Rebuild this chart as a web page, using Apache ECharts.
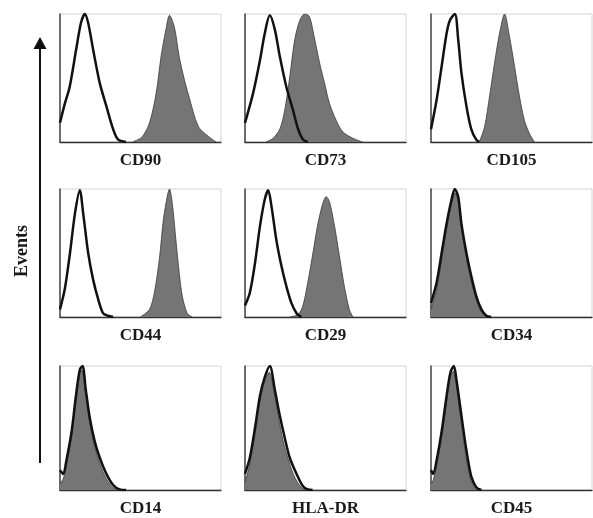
<!DOCTYPE html>
<html>
<head>
<meta charset="utf-8">
<script src="https://cdn.jsdelivr.net/npm/echarts@6/dist/echarts.min.js"></script>
<style>
html, body { margin: 0; padding: 0; background: #fff; }
#chart { width: 593px; height: 518px; }
</style>
</head>
<body>
<div id="chart"></div>
<script>
var markers = ['CD90', 'CD73', 'CD105', 'CD44', 'CD29', 'CD34', 'CD14', 'HLA-DR', 'CD45'];

// [fluorescence channel (% of axis), events (% of peak)]
// open curves = isotype control, filled = stained sample
var cd90Iso = [[0,15],[3,30],[6,43],[10,72],[13,93],[15.4,100],[17.5,93],[20.6,72],[24.7,46],[28.8,28],[33,10],[36,2],[41,0]];
var cd90Pos = [[45,0],[51,4],[55.6,15],[59.7,38],[62.8,67],[65.8,88],[68,99],[71,90],[74,67],[77,50],[80,36],[86,12],[92.6,4],[97,0]];
var cd73Iso = [[0,15],[5,38],[9.3,64],[12.3,85],[15.4,99],[18.5,88],[21.6,67],[25.7,43],[29.8,25],[33,10],[36,2],[39,0]];
var cd73Pos = [[13,0],[17.5,3],[21.6,10],[24.7,25],[27.8,51],[30.9,80],[34,95],[37,100],[40,98],[43,82],[46.3,62],[49.4,46],[52.5,30],[56.6,17],[60.7,8],[66.9,3],[73,0]];
var cd105Iso = [[0,10],[3.5,33],[6.6,59],[9.7,85],[11.7,95],[14.8,100],[16.9,80],[18.9,54],[22,28],[25,10],[28,2],[30,0]];
var cd105Pos = [[30,0],[33.3,12],[36.4,36],[39.5,62],[42.6,85],[45.7,100],[48.8,82],[51.9,59],[54.9,36],[58,17],[61,7],[64.2,0]];
var cd44Iso = [[0,6],[3,22],[6.2,50],[9.3,81],[12.3,99],[14.4,81],[17.5,50],[20.6,29],[23.7,14],[26.7,3],[29.8,1],[33,0]];
var cd44Pos = [[50,0],[55.6,6],[58.6,19],[61.7,45],[64.2,76],[66.9,96],[68,100],[70,86],[72,60],[74,35],[76,16],[79,3],[82,0]];
var cd29Iso = [[0,9],[3,19],[6.2,42],[9.3,71],[12.3,92],[14.4,99],[16.5,86],[19.5,60],[22.6,40],[25.7,24],[28.8,11],[32,3],[35,0]];
var cd29Pos = [[27.8,0],[33,2],[36,9],[39,27],[42.2,50],[45.3,73],[48.4,89],[50.4,94],[52.5,90],[55.6,71],[58.6,48],[61.7,24],[64.8,6],[67,0]];
var cd34Iso = [[0,11],[3.5,27],[6.6,50],[9.7,73],[12.8,92],[14.8,100],[16.9,94],[18.9,73],[22,50],[25,32],[28.2,16],[31.3,6],[34.4,1],[37.4,0]];
var cd34Pos = [[0,6],[3.5,22],[6.6,45],[9.7,69],[12.8,89],[15,97],[17,90],[18.9,70],[22,46],[25,28],[28.2,13],[31.3,4],[34,0]];
var cd14Iso = [[0,16],[2,13],[4,24],[7.2,47],[9.9,76],[12.3,97],[14,100],[16,81],[18.5,58],[21.6,39],[24.7,26],[28.8,13],[33,4],[37,0.5],[41,0]];
var cd14Pos = [[0,5],[2,9],[4,20],[7.2,43],[9.9,72],[12.3,94],[13.5,97],[15.5,82],[18,58],[21,38],[24,24],[28,11],[32,3],[36,0]];
var hladrIso = [[0,13],[3,26],[6.2,50],[9.3,76],[12.3,91],[15.4,100],[18.5,81],[21.6,60],[24.7,42],[27.8,26],[32,13],[36,3],[39,0.5],[42,0]];
var hladrPos = [[0,6],[3,21],[6.2,45],[9.3,72],[12.3,88],[15,95],[18,79],[21,57],[24,38],[27.5,22],[31,10],[35,2],[38,0]];
var cd45Iso = [[0,16],[1.4,13],[3.5,24],[6.6,47],[9.7,76],[12.1,95],[14.2,100],[15.8,89],[18.9,60],[22,32],[25,11],[28.2,2],[31.3,0]];
var cd45Pos = [[0,5],[1.4,8],[3.5,20],[6.6,43],[9.7,72],[12.1,92],[14,96],[15.6,86],[18.5,57],[21.5,29],[24.5,9],[27.5,1],[30,0]];

var isoData = [cd90Iso, cd73Iso, cd105Iso, cd44Iso, cd29Iso, cd34Iso, cd14Iso, hladrIso, cd45Iso];
var posData = [cd90Pos, cd73Pos, cd105Pos, cd44Pos, cd29Pos, cd34Pos, cd14Pos, hladrPos, cd45Pos];

var colLeft = [60, 245, 431];
var rowTop = [14, 189, 366];
var panelW = 161, panelH = 128;
var serif = '"Liberation Serif", "Times New Roman", serif';

var chart = echarts.init(document.getElementById('chart'), null, { renderer: 'canvas' });

var grids = [], xAxes = [], yAxes = [], series = [];
markers.forEach(function (name, i) {
    var r = Math.floor(i / 3), c = i % 3;
    grids.push({
        left: colLeft[c], top: rowTop[r], width: panelW, height: panelH,
        show: true, borderColor: '#d4d4d4', borderWidth: 1, backgroundColor: 'transparent'
    });
    xAxes.push({
        gridIndex: i, type: 'value', min: 0, max: 100,
        name: name, nameLocation: 'middle', nameGap: 10,
        nameTextStyle: { fontFamily: serif, fontWeight: 'bold', fontSize: 17, color: '#1a1a1a' },
        axisLine: { show: true, lineStyle: { color: '#333', width: 1.3 } },
        axisTick: { show: false }, axisLabel: { show: false }, splitLine: { show: false }
    });
    yAxes.push({
        gridIndex: i, type: 'value', min: 0, max: 100,
        axisLine: { show: true, lineStyle: { color: '#444', width: 1.5 } },
        axisTick: { show: false }, axisLabel: { show: false }, splitLine: { show: false }
    });
    series.push({
        type: 'line', xAxisIndex: i, yAxisIndex: i, data: posData[i],
        smooth: 0.3, showSymbol: false, silent: true,
        lineStyle: { color: '#3a3a3a', width: 0.8 },
        areaStyle: { color: '#757575', opacity: 1 }
    });
    series.push({
        type: 'line', xAxisIndex: i, yAxisIndex: i, data: isoData[i],
        smooth: 0.3, showSymbol: false, silent: true,
        lineStyle: { color: '#111', width: 2.5 }
    });
});

var option = {
    backgroundColor: '#fff',
    animation: false,
    grid: grids,
    xAxis: xAxes,
    yAxis: yAxes,
    series: series,
    graphic: [
        { type: 'line', shape: { x1: 40, y1: 463, x2: 40, y2: 46 }, style: { stroke: '#111', lineWidth: 2 } },
        { type: 'polygon', shape: { points: [[40, 37], [33.5, 49], [46.5, 49]] }, style: { fill: '#111' } },
        {
            type: 'text', x: 22, y: 251, rotation: Math.PI / 2,
            style: { text: 'Events', font: 'bold 18px ' + serif, fill: '#1a1a1a', align: 'center', verticalAlign: 'middle' }
        }
    ]
};
chart.setOption(option);
</script>
</body>
</html>
